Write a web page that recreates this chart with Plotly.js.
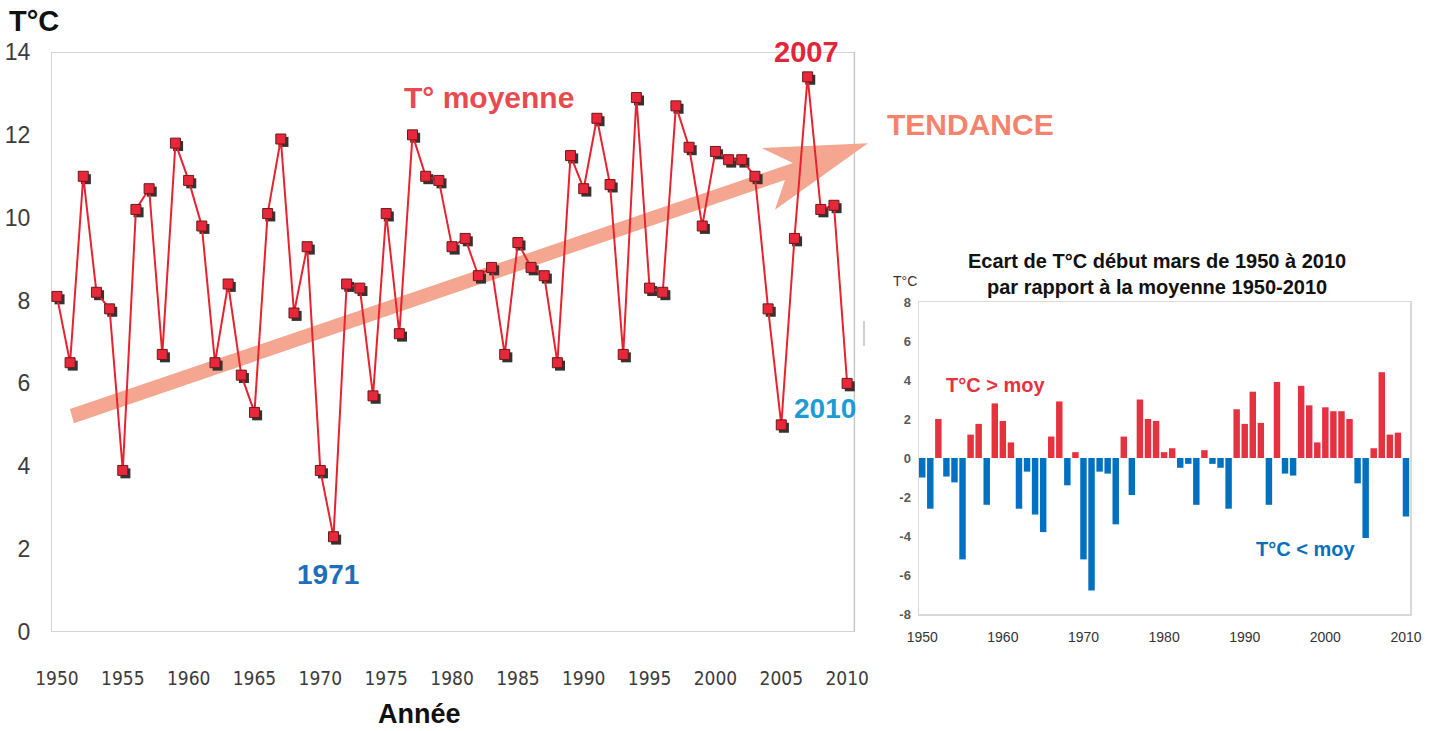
<!DOCTYPE html>
<html><head><meta charset="utf-8">
<script src="https://cdn.plot.ly/plotly-3.0.1.min.js"></script>
<style>html,body{margin:0;padding:0;background:#fff;}#chart{width:1444px;height:731px;}</style>
</head><body><div id="chart"></div>
<script>
// ---- data ----
const years = [1950,1951,1952,1953,1954,1955,1956,1957,1958,1959,
  1960,1961,1962,1963,1964,1965,1966,1967,1968,1969,
  1970,1971,1972,1973,1974,1975,1976,1977,1978,1979,
  1980,1981,1982,1983,1984,1985,1986,1987,1988,1989,
  1990,1991,1992,1993,1994,1995,1996,1997,1998,1999,
  2000,2001,2002,2003,2004,2005,2006,2007,2008,2009,2010];
const tempMean = [8.1,6.5,11.0,8.2,7.8,3.9,10.2,10.7,6.7,11.8,
  10.9,9.8,6.5,8.4,6.2,5.3,10.1,11.9,7.7,9.3,
  3.9,2.3,8.4,8.3,5.7,10.1,7.2,12.0,11.0,10.9,
  9.3,9.5,8.6,8.8,6.7,9.4,8.8,8.6,6.5,11.5,
  10.7,12.4,10.8,6.7,12.9,8.3,8.2,12.7,11.7,9.8,
  11.6,11.4,11.4,11.0,7.8,5.0,9.5,13.4,10.2,10.3,6.0];
const anomaly = [-1.0,-2.6,2.0,-0.95,-1.25,-5.2,1.2,1.75,-2.4,2.8,
  1.9,0.8,-2.6,-0.7,-2.9,-3.8,1.1,2.9,-1.4,0.3,
  -5.2,-6.8,-0.7,-0.8,-3.4,1.1,-1.9,3.0,2.0,1.9,
  0.3,0.5,-0.5,-0.3,-2.4,0.4,-0.3,-0.5,-2.6,2.5,
  1.75,3.4,1.8,-2.4,3.9,-0.8,-0.9,3.7,2.7,0.8,
  2.6,2.4,2.4,2.0,-1.3,-4.1,0.5,4.4,1.2,1.3,-3.0];
const leftXTicks = [1950,1955,1960,1965,1970,1975,1980,1985,1990,1995,2000,2005,2010];
const leftYTicks = [0,2,4,6,8,10,12,14];
const rightXTicks = [1950,1960,1970,1980,1990,2000,2010];
const rightYTicks = [-8,-6,-4,-2,0,2,4,6,8];

// ---- layout helpers ----
const W = 1444, H = 731;
const px = v => v / W;
const py = v => 1 - v / H;
const FONT = 'Liberation Sans, Arial, sans-serif';
const COND = 'DejaVu Sans Condensed, Liberation Sans, Arial, sans-serif';
const RED = '#e8222f';
const POS = '#e6323f', NEG = '#0070c0';

const xr = [1949.55, 2012.0];
const yr = [0, 14];
const sx = 0.2, sy = 0.07; // shadow offset in data units

const traces = [
  { x: years, y: tempMean, xaxis: 'x', yaxis: 'y', type: 'scatter', mode: 'markers',
    marker: { symbol: 'square', size: 10, color: '#333333' }, cliponaxis: false, hoverinfo: 'skip' },
  { x: years, y: tempMean, xaxis: 'x2', yaxis: 'y2', type: 'scatter', mode: 'lines+markers',
    line: { color: RED, width: 2 },
    marker: { symbol: 'square', size: 10, color: '#e8283a', line: { color: '#6a1a1a', width: 1 } },
    cliponaxis: false },
  { x: years, y: anomaly, xaxis: 'x3', yaxis: 'y3', type: 'bar', width: 0.8,
    marker: { color: anomaly.map(v => v >= 0 ? POS : NEG) } }
];

const layout = {
  width: W, height: H,
  margin: { l: 0, r: 0, t: 0, b: 0 },
  paper_bgcolor: '#ffffff', plot_bgcolor: 'rgba(0,0,0,0)',
  showlegend: false,
  font: { family: FONT, color: '#333' },
  xaxis: { domain: [px(51), px(51 + (xr[1] - xr[0]) * 13.17)], range: [xr[0] - sx, xr[1] - sx],
    visible: false, fixedrange: true },
  yaxis: { domain: [py(632), py(52)], range: [yr[0] + sy, yr[1] + sy], visible: false, fixedrange: true },
  xaxis2: { overlaying: 'x', anchor: 'y2', side: 'bottom', range: xr,
    tickmode: 'array', tickvals: leftXTicks, ticktext: leftXTicks.map(String),
    ticks: 'outside', ticklen: 29, tickcolor: 'rgba(0,0,0,0)',
    tickfont: { family: COND, size: 19, color: '#3c3c3c' },
    showgrid: false, zeroline: false, showline: false },
  yaxis2: { overlaying: 'y', anchor: 'x2', side: 'left', range: yr,
    tickmode: 'array', tickvals: leftYTicks, ticktext: leftYTicks.map(String),
    ticks: 'outside', ticklen: 15, tickcolor: 'rgba(0,0,0,0)',
    tickfont: { family: FONT, size: 23, color: '#3c3c3c' },
    showgrid: false, zeroline: false, showline: false },
  xaxis3: { domain: [px(919), px(1410)], anchor: 'y3', range: [1949.6, 2010.5],
    tickmode: 'array', tickvals: rightXTicks, ticktext: rightXTicks.map(String),
    ticks: 'outside', ticklen: 10, tickcolor: 'rgba(0,0,0,0)',
    tickfont: { family: FONT, size: 14, color: '#333' },
    showgrid: false, zeroline: false, showline: true, mirror: true, linecolor: '#d9d9d9', linewidth: 1.5 },
  yaxis3: { domain: [py(614), py(302)], anchor: 'x3', range: [-8, 8],
    tickmode: 'array', tickvals: rightYTicks, ticktext: rightYTicks.map(String),
    ticks: 'outside', ticklen: 4, tickcolor: 'rgba(0,0,0,0)',
    tickfont: { family: FONT, size: 13, color: '#595959', weight: 'bold' },
    showgrid: false, zeroline: false, showline: true, mirror: true, linecolor: '#d9d9d9', linewidth: 1.5 },
  shapes: [
    { type: 'rect', xref: 'x2', yref: 'y2', x0: 1949.55, x1: 2010.55, y0: 0, y1: 14,
      line: { color: '#c8c8c8', width: 1.5 }, layer: 'below' },
    { type: 'path', xref: 'x2', yref: 'y2', layer: 'below',
      path: 'M 1950.99,5.38 L 2005.88,11.32 L 2003.53,11.68 L 2011.58,11.80 L 2004.52,10.19 L 2005.28,10.91 L 1951.29,5.04 Z',
      fillcolor: '#f5a690', line: { width: 0 } },
    { type: 'line', xref: 'paper', yref: 'paper', x0: px(864), x1: px(864), y0: py(321), y1: py(346),
      line: { color: '#b0b0b0', width: 1.2 } }
  ],
  annotations: [
    { text: 'T°C', xref: 'paper', yref: 'paper', x: px(7), y: py(21), xanchor: 'left', yanchor: 'middle',
      showarrow: false, font: { family: FONT, size: 29, color: '#111', weight: 'bold' } },
    { text: 'Année', xref: 'paper', yref: 'paper', x: px(419), y: py(714), xanchor: 'center', yanchor: 'middle',
      showarrow: false, font: { family: FONT, size: 27, color: '#111', weight: 'bold' } },
    { text: 'T° moyenne', xref: 'paper', yref: 'paper', x: px(489), y: py(98), xanchor: 'center', yanchor: 'middle',
      showarrow: false, font: { family: FONT, size: 30, color: '#e84a4f', weight: 'bold' } },
    { text: 'TENDANCE', xref: 'paper', yref: 'paper', x: px(970), y: py(125), xanchor: 'center', yanchor: 'middle',
      showarrow: false, font: { family: FONT, size: 30, color: '#f4836e', weight: 'bold' } },
    { text: '2007', xref: 'x2', yref: 'y2', x: 2007, y: 13.4, yshift: 25, xshift: -1,
      showarrow: false, font: { family: FONT, size: 29, color: '#e0263a', weight: 'bold' } },
    { text: '1971', xref: 'x2', yref: 'y2', x: 1971, y: 2.3, xshift: -6, yshift: -38,
      showarrow: false, font: { family: FONT, size: 28, color: '#1f6fb8', weight: 'bold' } },
    { text: '2010', xref: 'x2', yref: 'y2', x: 2010, y: 6.0, xshift: -22, yshift: -25,
      showarrow: false, font: { family: FONT, size: 28, color: '#1c9bd7', weight: 'bold' } },
    { text: 'Ecart de T°C début mars de 1950 à 2010', xref: 'paper', yref: 'paper', x: px(1157), y: py(261),
      xanchor: 'center', yanchor: 'middle', showarrow: false,
      font: { family: FONT, size: 20, color: '#111', weight: 'bold' } },
    { text: 'par rapport à la moyenne 1950-2010', xref: 'paper', yref: 'paper', x: px(1157), y: py(287),
      xanchor: 'center', yanchor: 'middle', showarrow: false,
      font: { family: FONT, size: 20, color: '#111', weight: 'bold' } },
    { text: 'T°C', xref: 'paper', yref: 'paper', x: px(905), y: py(281), xanchor: 'center', yanchor: 'middle',
      showarrow: false, font: { family: FONT, size: 14, color: '#333' } },
    { text: 'T°C > moy', xref: 'paper', yref: 'paper', x: px(995), y: py(385), xanchor: 'center', yanchor: 'middle',
      showarrow: false, font: { family: FONT, size: 20, color: '#e6323f', weight: 'bold' } },
    { text: 'T°C < moy', xref: 'paper', yref: 'paper', x: px(1305), y: py(549), xanchor: 'center', yanchor: 'middle',
      showarrow: false, font: { family: FONT, size: 20, color: '#0a6fba', weight: 'bold' } }
  ]
};

Plotly.newPlot('chart', traces, layout, { displayModeBar: false, staticPlot: true });
</script></body></html>
